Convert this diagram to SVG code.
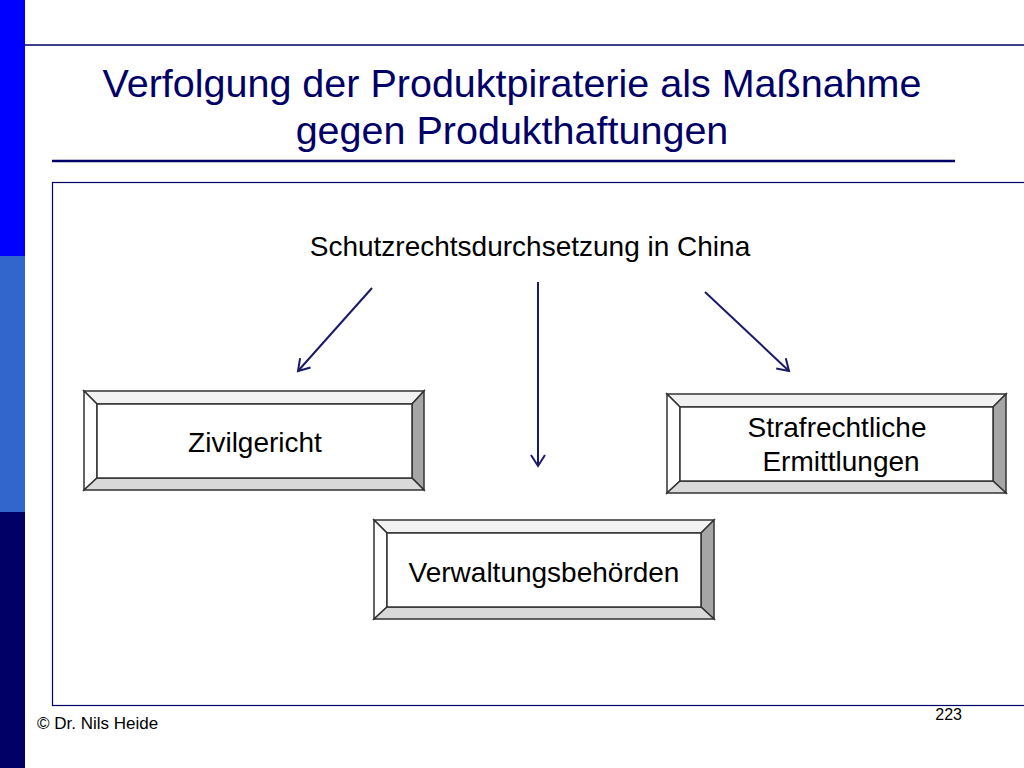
<svg xmlns="http://www.w3.org/2000/svg" width="1024" height="768" viewBox="0 0 1024 768">
<defs>
<style>
text{font-family:"Liberation Sans",Arial,sans-serif;fill:#000}
.t{fill:#000066;font-size:39.5px}
.b{font-size:28px}
.c{stroke:#1a1a66;stroke-width:2;fill:none}
.o{stroke:#333;stroke-width:1.5}
</style>
<marker id="a" markerWidth="16" markerHeight="16" refX="12" refY="8" orient="auto" markerUnits="userSpaceOnUse"><path d="M1,1 L12,8 L1,15" fill="none" stroke="#1a1a66" stroke-width="2"/></marker>
</defs>
<rect width="1024" height="768" fill="#fff"/>
<rect x="0" y="0" width="25" height="256" fill="#0000FF"/>
<rect x="0" y="256" width="25" height="256" fill="#3366CC"/>
<rect x="0" y="512" width="25" height="256" fill="#000066"/>
<line x1="25" y1="45" x2="1024" y2="45" stroke="#000066" stroke-width="1.5"/>
<text class="t" x="512" y="97" text-anchor="middle">Verfolgung der Produktpiraterie als Maßnahme</text>
<text class="t" x="512" y="144" text-anchor="middle">gegen Produkthaftungen</text>
<line x1="52" y1="161" x2="955" y2="161" stroke="#000066" stroke-width="2.5"/>
<rect x="52.5" y="182.5" width="975" height="523" fill="none" stroke="#000066" stroke-width="1.2"/>
<text class="b" x="530" y="256" text-anchor="middle">Schutzrechtsdurchsetzung in China</text>
<g id="connectors">
<line class="c" x1="372" y1="288" x2="298" y2="371" marker-end="url(#a)"/>
<line class="c" x1="538" y1="282" x2="538" y2="466" marker-end="url(#a)"/>
<line class="c" x1="705" y1="292" x2="789" y2="371" marker-end="url(#a)"/>
</g>
<g id="zivil">
<polygon points="84,391 424,391 412,404 97,404" fill="#f2f2f2" class="o"/>
<polygon points="84,391 97,404 97,478 84,490" fill="#ffffff" class="o"/>
<polygon points="424,391 424,490 412,478 412,404" fill="#a6a6a6" class="o"/>
<polygon points="84,490 424,490 412,478 97,478" fill="#d9d9d9" class="o"/>
<rect x="97" y="404" width="315" height="74" fill="#fff" class="o"/>
<text class="b" x="255" y="452" text-anchor="middle">Zivilgericht</text>
</g>
<g id="straf">
<polygon points="667,394 1006,394 993,407 680,407" fill="#f2f2f2" class="o"/>
<polygon points="667,394 680,407 680,481 667,493" fill="#ffffff" class="o"/>
<polygon points="1006,394 1006,493 993,481 993,407" fill="#a6a6a6" class="o"/>
<polygon points="667,493 1006,493 993,481 680,481" fill="#d9d9d9" class="o"/>
<rect x="680" y="407" width="313" height="74" fill="#fff" class="o"/>
<text class="b" x="837" y="437" text-anchor="middle">Strafrechtliche</text>
<text class="b" x="841" y="471" text-anchor="middle">Ermittlungen</text>
</g>
<g id="verw">
<polygon points="374,520 714,520 701,533 387,533" fill="#f2f2f2" class="o"/>
<polygon points="374,520 387,533 387,607 374,619" fill="#ffffff" class="o"/>
<polygon points="714,520 714,619 701,607 701,533" fill="#a6a6a6" class="o"/>
<polygon points="374,619 714,619 701,607 387,607" fill="#d9d9d9" class="o"/>
<rect x="387" y="533" width="314" height="74" fill="#fff" class="o"/>
<text class="b" x="544" y="582" text-anchor="middle">Verwaltungsbehörden</text>
</g>
<text x="37" y="729" font-size="17">© Dr. Nils Heide</text>
<text x="962" y="720" text-anchor="end" font-size="16" fill="#000066">223</text>
</svg>
